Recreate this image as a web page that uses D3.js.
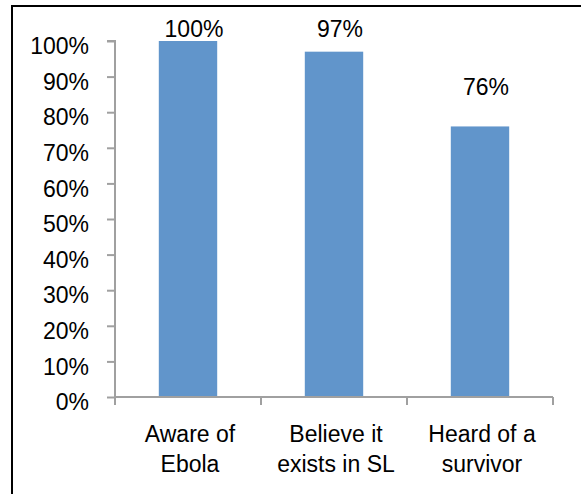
<!DOCTYPE html>
<html>
<head>
<meta charset="utf-8">
<script src="https://cdn.jsdelivr.net/npm/d3@7"></script>
<style>
  html, body { margin: 0; padding: 0; background: #fff; }
  svg { display: block; }
  text { font-family: "Liberation Sans", Arial, sans-serif; fill: #000; }
</style>
</head>
<body>
<svg id="chart" width="581" height="494"></svg>
<script>
const categories = [["Aware of", "Ebola"], ["Believe it", "exists in SL"], ["Heard of a", "survivor"]];
const values = [1.00, 0.97, 0.76];
const valueLabels = ["100%", "97%", "76%"];
const yTicks = [0, 0.1, 0.2, 0.3, 0.4, 0.5, 0.6, 0.7, 0.8, 0.9, 1.0];

const svg = d3.select("#chart");
const plot = { left: 115, right: 553, top: 41, bottom: 397 };
const axisColor = "#a0a0a0";
const fontSize = 23;

// outer border
svg.append("rect")
  .attr("x", 12).attr("y", 6)
  .attr("width", 600).attr("height", 520)
  .attr("fill", "none").attr("stroke", "#000").attr("stroke-width", 2);

const x = d3.scaleBand()
  .domain(d3.range(categories.length))
  .range([plot.left, plot.right])
  .paddingInner(0.6).paddingOuter(0.3);

const y = d3.scaleLinear().domain([0, 1]).range([plot.bottom, plot.top]);

// bars
svg.selectAll("rect.bar").data(values).enter().append("rect")
  .attr("class", "bar")
  .attr("x", (d, i) => x(i))
  .attr("width", x.bandwidth())
  .attr("y", d => y(d))
  .attr("height", d => y(0) - y(d))
  .attr("fill", "#6195cb");

// y axis
const yAxis = d3.axisLeft(y).tickValues(yTicks).tickSize(8)
  .tickFormat(d3.format(".0%"));
const gy = svg.append("g").attr("transform", `translate(${plot.left},0)`).call(yAxis);
gy.select(".domain").attr("stroke", axisColor).attr("stroke-width", 2)
  .attr("d", `M-8,${plot.top}H0V${plot.bottom + 8}`);
gy.selectAll(".tick line").attr("stroke", axisColor).attr("stroke-width", 2);
gy.selectAll(".tick text")
  .attr("x", -26).attr("dy", "0.55em")
  .style("font-family", '"Liberation Sans", Arial, sans-serif')
  .style("font-size", fontSize + "px").attr("fill", "#000");

// x axis
const step = (plot.right - plot.left) / categories.length;
const xEdges = d3.range(categories.length + 1).map(i => plot.left + i * step);
const gx = svg.append("g");
gx.append("line")
  .attr("x1", plot.left).attr("x2", plot.right)
  .attr("y1", plot.bottom).attr("y2", plot.bottom)
  .attr("stroke", axisColor).attr("stroke-width", 2);
gx.selectAll("line.tk").data(xEdges).enter().append("line")
  .attr("class", "tk")
  .attr("x1", d => d).attr("x2", d => d)
  .attr("y1", plot.bottom).attr("y2", plot.bottom + 8)
  .attr("stroke", axisColor).attr("stroke-width", 2);

// category labels
categories.forEach((lines, i) => {
  const cx = x(i) + x.bandwidth() / 2 + 2;
  const t = svg.append("text")
    .attr("text-anchor", "middle")
    .style("font-size", fontSize + "px");
  lines.forEach((ln, j) => {
    t.append("tspan").attr("x", cx).attr("y", 442 + j * 30).text(ln);
  });
});

// value labels (clamped to stay inside the chart area)
svg.selectAll("text.val").data(values).enter().append("text")
  .attr("class", "val")
  .attr("text-anchor", "middle")
  .style("font-size", fontSize + "px")
  .attr("x", (d, i) => x(i) + x.bandwidth() / 2 + 6)
  .attr("y", d => Math.max(y(d) - 31, plot.top - 4))
  .text((d, i) => valueLabels[i]);
</script>
</body>
</html>
